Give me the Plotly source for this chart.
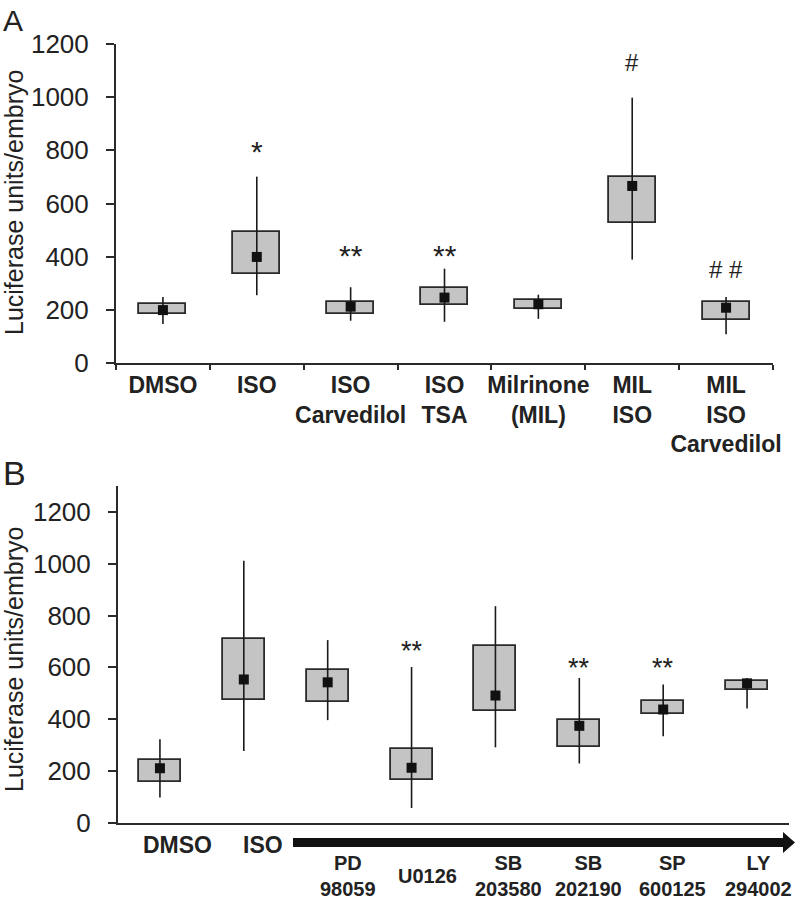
import plotly.graph_objects as go

# ---------------- data ----------------
cats_a = ["DMSO", "ISO", "ISO<br>Carvedilol", "ISO<br>TSA", "Milrinone<br>(MIL)",
          "MIL<br>ISO", "MIL<br>ISO<br>Carvedilol"]
q1_a = [184, 335, 183, 218, 202, 526, 161]
q3_a = [222, 491, 231, 282, 238, 700, 228]
mean_a = [199, 399, 212, 246, 221, 666, 208]
min_a = [147, 255, 159, 155, 166, 389, 108]
max_a = [248, 701, 285, 355, 257, 998, 248]
sig_a = ["", "*", "**", "**", "", "#", "# #"]
sig_y_a = [None, 814, 422, 422, None, 1130, 352]

names_b = ["DMSO", "ISO", "PD<br>98059", "U0126", "SB<br>203580", "SB<br>202190",
           "SP<br>600125", "LY<br>294002"]
q1_b = [158, 472, 467, 165, 432, 293, 418, 511]
q3_b = [242, 709, 590, 283, 684, 397, 470, 548]
mean_b = [210, 553, 542, 212, 491, 374, 437, 538]
min_b = [97, 277, 396, 57, 291, 229, 334, 441]
max_b = [322, 1011, 705, 601, 836, 559, 534, 559]
sig_b = ["", "", "", "**", "", "**", "**", ""]
sig_y_b = [None, None, None, 679, None, 612, 612, None]

y_ticks = [0, 200, 400, 600, 800, 1000, 1200]

# ---------------- styling helpers ----------------
W, H = 800, 900
def px(x):
    return x / W
def py(y):
    return 1 - y / H

FONT = "Liberation Sans, Arial, sans-serif"
TXT = "#222222"
BOX_FILL = "#c4c4c4"
LINE = "#2a2a2a"

fig = go.Figure()

def add_panel(xs, q1, q3, mean, mn, mx, xaxis, yaxis):
    fig.add_trace(go.Bar(
        x=xs, y=[b - a for a, b in zip(q1, q3)], base=q1, width=0.5,
        marker=dict(color=BOX_FILL, line=dict(color=LINE, width=1.8)),
        xaxis=xaxis, yaxis=yaxis, showlegend=False, hoverinfo="skip"))
    fig.add_trace(go.Scatter(
        x=xs, y=mean, mode="markers",
        marker=dict(symbol="square", size=10, color="#111111"),
        error_y=dict(type="data", symmetric=False,
                     array=[b - m for m, b in zip(mean, mx)],
                     arrayminus=[m - a for m, a in zip(mean, mn)],
                     width=0, thickness=1.6, color="#1a1a1a"),
        xaxis=xaxis, yaxis=yaxis, showlegend=False))

add_panel(cats_a, q1_a, q3_a, mean_a, min_a, max_a, "x", "y")
xb = list(range(len(names_b)))
add_panel(xb, q1_b, q3_b, mean_b, min_b, max_b, "x2", "y2")

axis_common = dict(showgrid=False, zeroline=False, showline=True, linecolor=LINE,
                   linewidth=2, automargin=False)
yaxis_common = dict(axis_common, tickvals=y_ticks, ticks="outside", ticklen=8,
                    tickwidth=1.5, tickcolor=LINE,
                    tickfont=dict(family=FONT, size=26, color=TXT),
                    ticklabelstandoff=12)

fig.update_layout(
    width=W, height=H, template="none",
    margin=dict(l=0, r=0, t=0, b=0),
    paper_bgcolor="white", plot_bgcolor="white",
    bargap=0, showlegend=False,
    xaxis=dict(axis_common, domain=[px(116), px(773)], anchor="y", type="category",
               range=[-0.5, 6.5], tickson="boundaries", ticks="outside", ticklen=5,
               tickwidth=1.5, tickcolor=LINE, tickangle=0,
               tickfont=dict(family=FONT, size=23, color=TXT, weight="bold")),
    yaxis=dict(yaxis_common, domain=[py(363), py(44)], anchor="x", range=[0, 1200]),
    xaxis2=dict(axis_common, domain=[px(118), px(789)], anchor="y2",
                range=[-0.5, 7.5], showticklabels=False, ticks=""),
    yaxis2=dict(yaxis_common, domain=[py(822.7), py(486)], anchor="x2", range=[0, 1300]),
)

ann = []
# significance marks
for c, s, yv in zip(cats_a, sig_a, sig_y_a):
    if s:
        star = "*" in s
        ann.append(dict(x=c, y=yv, xref="x", yref="y", text=s, showarrow=False,
                        yanchor="middle", yshift=-5 if star else 0,
                        font=dict(family=FONT, size=30 if star else 24, color=TXT)))
for i, (s, yv) in enumerate(zip(sig_b, sig_y_b)):
    if s:
        ann.append(dict(x=i, y=yv, xref="x2", yref="y2", text=s, showarrow=False,
                        yanchor="middle", yshift=-4,
                        font=dict(family=FONT, size=27, color=TXT)))

# y-axis titles
for yc in (203, 660):
    ann.append(dict(x=px(14), y=py(yc), xref="paper", yref="paper",
                    text="Luciferase units/embryo", textangle=-90, showarrow=False,
                    xanchor="center", yanchor="middle",
                    font=dict(family=FONT, size=25, color=TXT)))

# panel letters
ann.append(dict(x=px(1), y=py(2), xref="paper", yref="paper", text="A",
                showarrow=False, xanchor="left", yanchor="top",
                font=dict(family=FONT, size=30, color=TXT)))
ann.append(dict(x=px(1), y=py(452), xref="paper", yref="paper", text="B",
                showarrow=False, xanchor="left", yanchor="top",
                font=dict(family=FONT, size=34, color=TXT)))

# panel B category labels (below axis, shifted right of boxes)
label_shift = [0.21, 0.23, 0.24, 0.19, 0.16, 0.11, 0.11, 0.14]
for i, (n, sh) in enumerate(zip(names_b, label_shift)):
    top_row = i < 2
    ann.append(dict(x=i + sh, y=py(845 if top_row else 876), xref="x2", yref="paper",
                    text=n, showarrow=False, xanchor="center", yanchor="middle",
                    font=dict(family=FONT, size=23 if top_row else 20, color=TXT,
                              weight="bold")))

fig.update_layout(annotations=ann)

# arrow under panel B
pts = [(293, 838), (783, 838), (783, 832), (795, 842.5), (783, 853), (783, 847), (293, 847)]
path = "M " + " L ".join(f"{px(a):.5f},{py(b):.5f}" for a, b in pts) + " Z"
fig.add_shape(type="path", path=path, xref="paper", yref="paper",
              fillcolor="#111111", line=dict(color="#111111", width=0))

fig.write_html("out.html", config={"displayModeBar": False},
               post_script="document.body.style.margin='0';document.body.style.overflow='hidden';")
